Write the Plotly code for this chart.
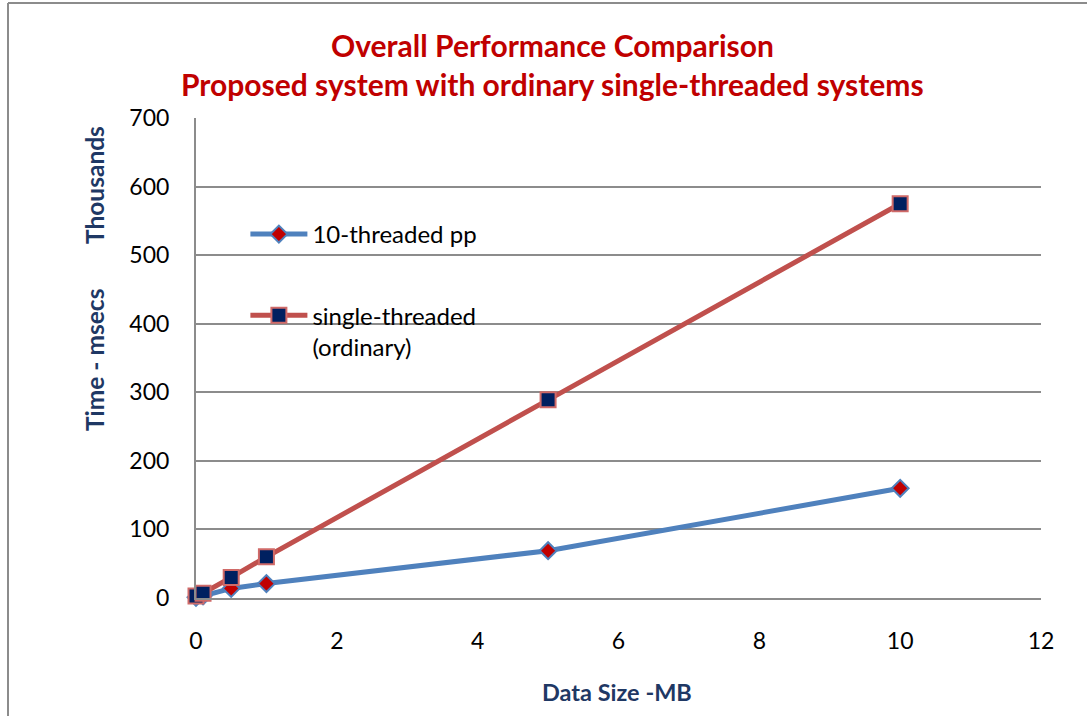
import plotly.graph_objects as go

# Data size (MB) and elapsed time (thousands of msecs)
data_size_mb = [0, 0.1, 0.5, 1, 5, 10]
time_10_threaded = [1, 3, 14, 21, 69, 160]
time_single_threaded = [3, 7, 30, 60, 289, 575]

x_ticks = [0, 2, 4, 6, 8, 10, 12]
y_ticks = [0, 100, 200, 300, 400, 500, 600, 700]

title_lines = ["Overall Performance Comparison",
               "Proposed system with ordinary single-threaded systems"]

FONT = "Lato"
NAVY = "#1F3864"
DARK_RED = "#C00000"
GRID = "#8C8C8C"

fig = go.Figure()

fig.add_trace(go.Scatter(
    x=data_size_mb, y=time_10_threaded, mode="lines+markers",
    name="10-threaded pp", legendgroup="a", cliponaxis=False,
    line=dict(color="#4F81BD", width=5),
    marker=dict(symbol="diamond", size=13, color=DARK_RED,
                line=dict(color="#4F81BD", width=2)),
))
fig.add_trace(go.Scatter(
    x=data_size_mb, y=time_single_threaded, mode="lines+markers",
    name="single-threaded<br>(ordinary)", legendgroup="b", cliponaxis=False,
    line=dict(color="#C0504D", width=5),
    marker=dict(symbol="square", size=15, color="#002060",
                line=dict(color="#D06A68", width=2)),
))

fig.update_xaxes(
    range=[0, 12], tickvals=x_ticks, ticktext=[str(v) for v in x_ticks],
    showgrid=False, zeroline=False,
    showline=True, linecolor=GRID, linewidth=2,
    ticks="outside", ticklen=21, tickcolor="rgba(0,0,0,0)",
    tickfont=dict(family=FONT, size=23, color="black"),
)
fig.update_yaxes(
    range=[0, 700], tickvals=y_ticks, ticktext=[str(v) for v in y_ticks],
    showgrid=True, gridcolor=GRID, gridwidth=2, zeroline=False,
    showline=True, linecolor=GRID, linewidth=2,
    ticks="outside", ticklen=20, tickcolor="rgba(0,0,0,0)",
    tickfont=dict(family=FONT, size=23, color="black"),
)

annotations = [
    dict(text="<b>%s</b>" % title_lines[0], x=552, y=45),
    dict(text="<b>%s</b>" % title_lines[1], x=552, y=84),
]
anns = []
for a in annotations:
    anns.append(dict(text=a["text"], xref="paper", yref="paper",
                     x=(a["x"] - 196) / 845, y=1 - (a["y"] - 118) / 480,
                     showarrow=False, xanchor="center", yanchor="middle",
                     font=dict(family=FONT, size=30, color=DARK_RED)))

anns += [
    dict(text="<b>Time - msecs</b>", xref="paper", yref="paper",
         x=(94 - 196) / 845, y=1 - (360 - 118) / 480, textangle=-90,
         showarrow=False, xanchor="center", yanchor="middle",
         font=dict(family=FONT, size=24.5, color=NAVY)),
    dict(text="<b>Thousands</b>", xref="paper", yref="paper",
         x=(94 - 196) / 845, y=1 - (185 - 118) / 480, textangle=-90,
         showarrow=False, xanchor="center", yanchor="middle",
         font=dict(family=FONT, size=24.5, color=NAVY)),
    dict(text="<b>Data Size -MB</b>", xref="paper", yref="paper",
         x=(617 - 196) / 845, y=-(692 - 598) / 480,
         showarrow=False, xanchor="center", yanchor="middle",
         font=dict(family=FONT, size=23.5, color=NAVY)),
]

# Outer chart frame (top and left edges)
shapes = [
    dict(type="line", xref="paper", yref="paper",
         x0=(8 - 196) / 845, x1=(1087 - 196) / 845,
         y0=1 + (118 - 3) / 480, y1=1 + (118 - 3) / 480,
         line=dict(color="#8C8C8C", width=2)),
    dict(type="line", xref="paper", yref="paper",
         x0=(8 - 196) / 845, x1=(8 - 196) / 845,
         y0=1 + (118 - 3) / 480, y1=-(716 - 598) / 480,
         line=dict(color="#8C8C8C", width=2)),
]

fig.update_layout(
    width=1087, height=716,
    margin=dict(l=196, r=46, t=118, b=118),
    paper_bgcolor="white", plot_bgcolor="white",
    showlegend=True,
    legend=dict(x=(253 - 196) / 845 - 0.009, y=1 - (212 - 118) / 480,
                xanchor="left", yanchor="top", valign="top",
                bgcolor="rgba(0,0,0,0)", itemwidth=57,
                tracegroupgap=47, traceorder="grouped",
                font=dict(family=FONT, size=24, color="black")),
    annotations=anns, shapes=shapes,
)

fig.write_html("out.html")
